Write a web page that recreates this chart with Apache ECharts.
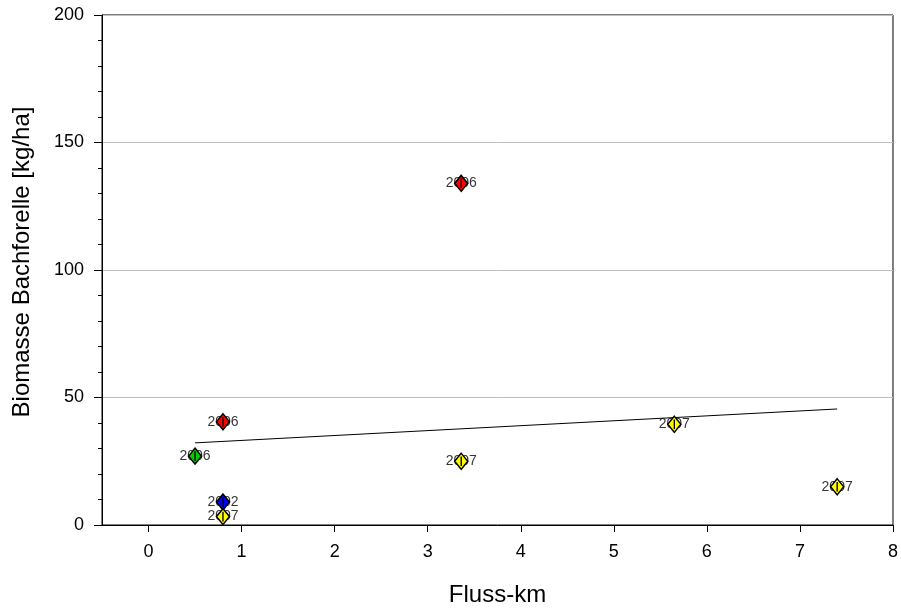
<!DOCTYPE html>
<html>
<head>
<meta charset="utf-8">
<script src="https://cdn.jsdelivr.net/npm/echarts@6/dist/echarts.min.js"></script>
<style>html,body{margin:0;padding:0;background:#fff;}#c{width:901px;height:612px;}</style>
</head>
<body>
<div id="c"></div>
<script>
const flussKm = [0.8, 0.5, 0.8, 0.8, 3.36, 3.36, 5.65, 7.4];
const biomasse = [40.5, 27, 9, 3.3, 134, 25, 39.5, 15];
const years = ['2006', '2006', '2002', '2007', '2006', '2007', '2007', '2007'];
const pointColors = ['#ff0000', '#00cc00', '#0000ff', '#ffff00', '#ff0000', '#ffff00', '#ffff00', '#ffff00'];
const trendX = [0.5, 7.4];
const trendY = [32.2, 45.5];
const xTicks = [0, 1, 2, 3, 4, 5, 6, 7, 8];
const yTicks = [0, 50, 100, 150, 200];

const FONT = '"Liberation Sans", Arial, sans-serif';
const chart = echarts.init(document.getElementById('c'), null, {renderer: 'canvas'});

const labelPts = flussKm.map((x, i) => ({
  value: [x, biomasse[i]],
  label: {formatter: years[i]}
}));
const markerPts = flussKm.map((x, i) => ({
  value: [x, biomasse[i]],
  itemStyle: {color: pointColors[i]}
}));

chart.setOption({
  animation: false,
  backgroundColor: '#fff',
  grid: {left: 102, right: 6, top: 15, bottom: 87, show: true, borderColor: '#000', borderWidth: 1, backgroundColor: 'transparent'},
  xAxis: {
    type: 'value', min: -0.5, max: 8,
    name: 'Fluss-km', nameLocation: 'middle', nameGap: 58,
    nameTextStyle: {fontFamily: FONT, fontSize: 24, color: '#000'},
    axisLine: {show: true, onZero: false, lineStyle: {color: '#000', width: 1}},
    axisTick: {show: true, inside: false, length: 7, lineStyle: {color: '#000'}, customValues: xTicks},
    axisLabel: {fontFamily: FONT, fontSize: 18, color: '#000', margin: 18, customValues: xTicks},
    splitLine: {show: false}
  },
  yAxis: {
    type: 'value', min: 0, max: 200, interval: 50,
    name: 'Biomasse Bachforelle [kg/ha]', nameLocation: 'middle', nameGap: 68,
    nameTextStyle: {fontFamily: FONT, fontSize: 24, color: '#000', padding: [0, 0, 0, 16]},
    axisLine: {show: true, onZero: false, lineStyle: {color: '#000', width: 1}},
    axisTick: {show: true, inside: false, length: 8, lineStyle: {color: '#000'}},
    minorTick: {show: true, splitNumber: 5, length: 4, lineStyle: {color: '#000'}},
    axisLabel: {fontFamily: FONT, fontSize: 18, color: '#000', margin: 18},
    splitLine: {show: true, lineStyle: {color: '#c0c0c0', width: 1}}
  },
  series: [
    {
      type: 'line', data: trendX.map((x, i) => [x, trendY[i]]),
      symbol: 'none', lineStyle: {color: '#000', width: 1}, z: 2, silent: true
    },
    {
      type: 'scatter', data: labelPts, symbolSize: 0, z: 3,
      label: {show: true, position: 'inside', fontFamily: FONT, fontSize: 14, color: '#000', textBorderWidth: 0}
    },
    {
      type: 'scatter', data: markerPts,
      symbol: 'path://M0,-10 L10,0 L0,10 L-10,0 Z M0,-6 L0,6',
      symbolSize: [13, 16], z: 4,
      itemStyle: {borderColor: '#000', borderWidth: 1.5, opacity: 1}
    }
  ]
});
</script>
</body>
</html>
